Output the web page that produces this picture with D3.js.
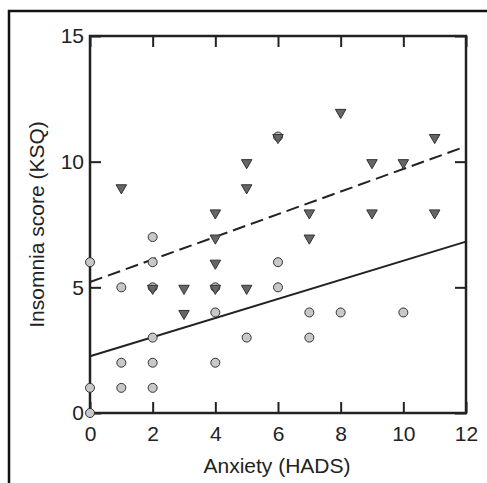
<!DOCTYPE html>
<html>
<head>
<meta charset="utf-8">
<script src="https://cdn.jsdelivr.net/npm/d3@7"></script>
<style>
  body { margin: 0; background: #fff; }
  svg { display: block; }
  text { font-family: "Liberation Sans", Arial, sans-serif; fill: #222; }
</style>
</head>
<body>
<svg></svg>
<script>
// group 1 (light circles)
var circleX = [0, 0, 0, 1, 1, 1, 2, 2, 2, 2, 2, 2, 4, 4, 4, 5, 6, 6, 6, 7, 7, 8, 10];
var circleY = [0, 1, 6, 1, 2, 5, 1, 2, 3, 5, 6, 7, 2, 4, 5, 3, 5, 6, 11, 3, 4, 4, 4];

// group 2 (dark triangles)
var triX = [1, 2, 3, 3, 4, 4, 4, 4, 5, 5, 5, 6, 7, 7, 8, 9, 9, 10, 11, 11];
var triY = [9, 5, 4, 5, 5, 6, 7, 8, 5, 9, 10, 11, 7, 8, 12, 8, 10, 10, 8, 11];

// regression lines [intercept, slope]
var solidFit = [2.26, 0.38];
var dashedFit = [5.21, 0.45];

var xTicks = [0, 2, 4, 6, 8, 10, 12];
var yTicks = [0, 5, 10, 15];

var width = 487, height = 483;
var pl = 90, pr = 466, pt = 36, pb = 413;

var svg = d3.select("svg")
    .attr("width", width)
    .attr("height", height);

var x = d3.scaleLinear().domain([0, 12]).range([pl, pr]);
var y = d3.scaleLinear().domain([0, 15]).range([pb, pt]);

// outer frame (cut off on right and bottom)
svg.append("rect")
    .attr("x", 9).attr("y", 11)
    .attr("width", 600).attr("height", 600)
    .attr("fill", "none")
    .attr("stroke", "#111")
    .attr("stroke-width", 2.5);

// axes, ticks pointing inward
var tickLen = 11;
var axStyle = function(g) {
    g.attr("font-size", null).attr("font-family", null);
    g.select(".domain").remove();
    g.selectAll(".tick line").attr("stroke", "#222").attr("stroke-width", 2);
    g.selectAll(".tick text").style("font-size", "21px").attr("fill", "#222");
};

svg.append("g").attr("transform", "translate(0," + pb + ")")
    .call(d3.axisBottom(x).tickValues(xTicks).tickSize(-tickLen).tickFormat(d3.format("d")))
    .call(axStyle)
    .selectAll(".tick text").attr("dy", "0.71em").attr("y", 13);

svg.append("g").attr("transform", "translate(0," + pt + ")")
    .call(d3.axisTop(x).tickValues(xTicks).tickSize(-tickLen).tickFormat(""))
    .call(axStyle);

svg.append("g").attr("transform", "translate(" + pl + ",0)")
    .call(d3.axisLeft(y).tickValues(yTicks).tickSize(-tickLen).tickFormat(d3.format("d")))
    .call(axStyle)
    .selectAll(".tick text").attr("x", -6);

svg.append("g").attr("transform", "translate(" + pr + ",0)")
    .call(d3.axisRight(y).tickValues(yTicks).tickSize(-tickLen).tickFormat(""))
    .call(axStyle);

svg.append("rect")
    .attr("x", pl).attr("y", pt)
    .attr("width", pr - pl).attr("height", pb - pt)
    .attr("fill", "none")
    .attr("stroke", "#222")
    .attr("stroke-width", 2.5);

// axis titles
svg.append("text")
    .attr("x", (pl + pr) / 2 - 1)
    .attr("y", 473)
    .attr("text-anchor", "middle")
    .style("font-size", "21px")
    .text("Anxiety (HADS)");

svg.append("text")
    .attr("transform", "translate(44," + ((pt + pb) / 2) + ") rotate(-90)")
    .attr("text-anchor", "middle")
    .style("font-size", "21px")
    .text("Insomnia score (KSQ)");

// fit lines
var fitLine = function(f) {
    return d3.line().x(function(d) { return x(d); })
        .y(function(d) { return y(f[0] + f[1] * d); })([0, 12]);
};

svg.append("path")
    .attr("d", fitLine(solidFit))
    .attr("fill", "none").attr("stroke", "#222").attr("stroke-width", 2);

svg.append("path")
    .attr("d", fitLine(dashedFit))
    .attr("fill", "none").attr("stroke", "#222").attr("stroke-width", 2)
    .attr("stroke-dasharray", "13,6");

// points
svg.selectAll(".circ")
    .data(circleX.map(function(d, i) { return [d, circleY[i]]; }))
    .enter().append("circle")
    .attr("class", "circ")
    .attr("cx", function(d) { return x(d[0]); })
    .attr("cy", function(d) { return y(d[1]); })
    .attr("r", 4.5)
    .attr("fill", "#c8c8c8")
    .attr("stroke", "#333")
    .attr("stroke-width", 1);

var tri = d3.symbol().type(d3.symbolTriangle).size(48);
svg.selectAll(".tri")
    .data(triX.map(function(d, i) { return [d, triY[i]]; }))
    .enter().append("path")
    .attr("class", "tri")
    .attr("d", tri)
    .attr("transform", function(d) { return "translate(" + x(d[0]) + "," + (y(d[1]) + 1) + ") rotate(180)"; })
    .attr("fill", "#666")
    .attr("stroke", "#333")
    .attr("stroke-width", 1);
</script>
</body>
</html>
